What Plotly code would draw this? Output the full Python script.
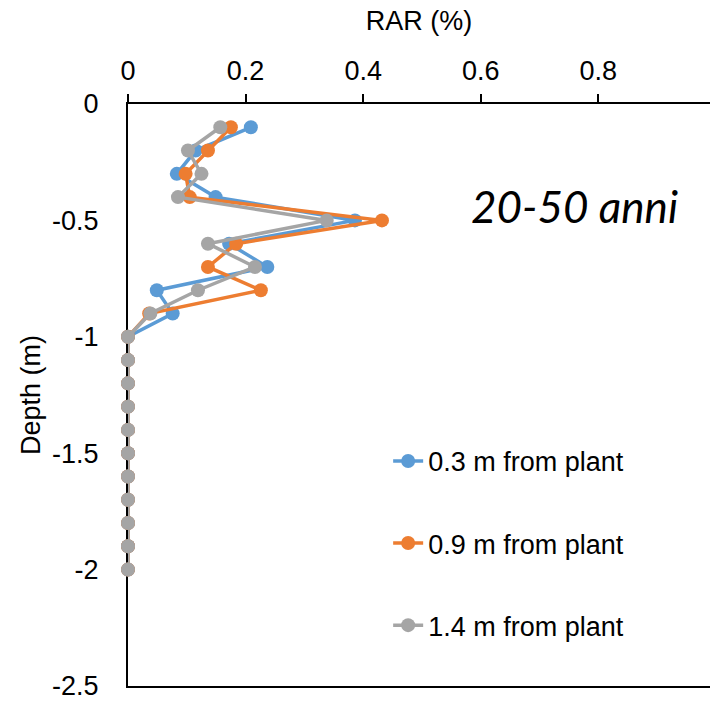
import plotly.graph_objects as go

depth = [-0.1, -0.2, -0.3, -0.4, -0.5, -0.6, -0.7, -0.8, -0.9, -1.0,
         -1.1, -1.2, -1.3, -1.4, -1.5, -1.6, -1.7, -1.8, -1.9, -2.0]
rar_03 = [0.209, 0.115, 0.083, 0.149, 0.386, 0.172, 0.237, 0.049, 0.076, 0.0,
          0, 0, 0, 0, 0, 0, 0, 0, 0, 0]
rar_09 = [0.175, 0.136, 0.098, 0.105, 0.432, 0.184, 0.136, 0.226, 0.036, 0.0,
          0, 0, 0, 0, 0, 0, 0, 0, 0, 0]
rar_14 = [0.157, 0.102, 0.125, 0.085, 0.338, 0.136, 0.216, 0.119, 0.038, 0.0,
          0, 0, 0, 0, 0, 0, 0, 0, 0, 0]
series_names = ["0.3 m from plant", "0.9 m from plant", "1.4 m from plant"]
colors = ["#5B9BD5", "#ED7D31", "#A5A5A5"]

x_ticks = [0, 0.2, 0.4, 0.6, 0.8]
x_ticktext = ["0", "0.2", "0.4", "0.6", "0.8"]
y_ticks = [0, -0.5, -1, -1.5, -2, -2.5]
y_ticktext = ["0", "-0.5", "-1", "-1.5", "-2", "-2.5"]

FONT = "Arial, Liberation Sans, sans-serif"
FS = 27

fig = go.Figure()
for i, (vals, name, col) in enumerate(zip([rar_03, rar_09, rar_14], series_names, colors)):
    fig.add_trace(go.Scatter(
        x=vals, y=depth, name=name, mode="lines+markers",
        line=dict(color=col, width=3.5),
        marker=dict(color=col, size=14),
        cliponaxis=False, legendgroup=f"g{i}",
    ))

fig.update_layout(
    width=710, height=701,
    margin=dict(l=128, r=0, t=104, b=15, autoexpand=False),
    paper_bgcolor="white", plot_bgcolor="white",
    font=dict(family=FONT, size=FS, color="black"),
    showlegend=True,
    legend=dict(
        x=0.447, y=0.428, xanchor="left", yanchor="top",
        traceorder="grouped", tracegroupgap=44,
        font=dict(family=FONT, size=FS, color="black"),
        bgcolor="rgba(0,0,0,0)",
    ),
    xaxis=dict(
        side="top", range=[0, 0.990], tickvals=x_ticks, ticktext=x_ticktext,
        showgrid=False, zeroline=False, showline=True, linecolor="black", linewidth=2,
        mirror=True, ticks="outside", ticklen=8, tickwidth=1.5, tickcolor="black",
        ticklabelstandoff=3, automargin=False, ticklabeloverflow="allow",
        title=dict(text="RAR (%)", standoff=18, font=dict(family=FONT, size=FS)),
    ),
    yaxis=dict(
        range=[-2.5, 0], tickvals=y_ticks, ticktext=y_ticktext,
        showgrid=False, zeroline=False, showline=True, linecolor="black", linewidth=2,
        ticks="", ticklabelstandoff=22, layer="below traces", automargin=False,
        ticklabeloverflow="allow",
        title=dict(text="Depth (m)", standoff=4, font=dict(family=FONT, size=FS)),
    ),
    annotations=[dict(
        x=0.76, y=-0.44, xref="x", yref="y", text="<i>20-50 anni</i>",
        showarrow=False, font=dict(family="Lato, Open Sans, sans-serif", size=44, color="black"),
    )],
)

fig.write_html("out.html", config={"displayModeBar": False},
               post_script="document.body.style.margin='0';document.body.style.overflow='hidden';")
